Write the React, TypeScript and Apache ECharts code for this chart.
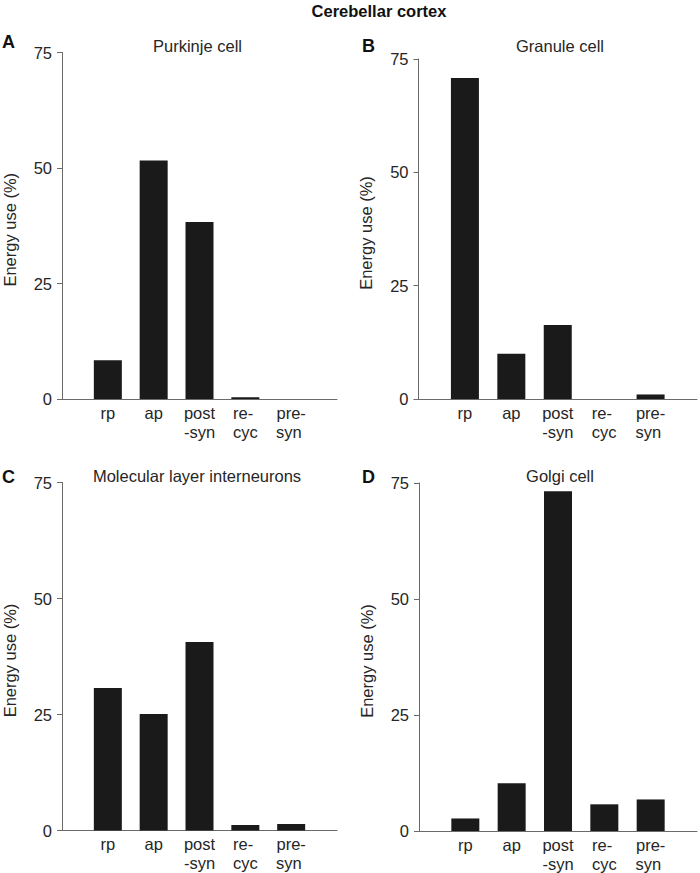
import React, { useEffect, useRef } from "react";
import * as echarts from "echarts";

const categories = ["rp", "ap", "post\n-syn", "re- \ncyc", "pre-\nsyn "];
const purkinje = [8.4, 51.6, 38.3, 0.4, 0];
const granule = [70.8, 10.0, 16.3, 0, 1.0];
const molecular = [30.7, 25.1, 40.6, 1.2, 1.4];
const golgi = [2.7, 10.3, 73.2, 5.75, 6.8];
const panelTitles = ["Purkinje cell", "Granule cell", "Molecular layer interneurons", "Golgi cell"];
const panelLetters = ["A", "B", "C", "D"];
const yTicks = { min: 0, max: 75, interval: 25 };
const mainTitle = "Cerebellar cortex";
const yName = "Energy use (%)";

const FONT = "'Liberation Sans', Arial, Helvetica, sans-serif";
const TEXT = "#262626";
const AXIS = "#6a6a6a";

export default function App() {
  const ref = useRef<HTMLDivElement>(null);
  useEffect(() => {
    document.body.style.margin = "0";
    const chart = echarts.init(ref.current!, null, { renderer: "svg" });
    const grids = [
      { left: 58, top: 52.5, width: 279, height: 346.5 },
      { left: 418.5, top: 59, width: 281, height: 340 },
      { left: 58, top: 482.5, width: 279, height: 348 },
      { left: 419, top: 483, width: 280, height: 348 },
    ];
    const datasets = [purkinje, granule, molecular, golgi];
    const xCats = ["", ...categories, ""];
    const option: any = {
      animation: false,
      backgroundColor: "#ffffff",
      textStyle: { fontFamily: FONT },
      grid: grids.map((g) => ({ ...g, containLabel: false })),
      xAxis: grids.map((_, i) => ({
        type: "category",
        gridIndex: i,
        data: xCats,
        boundaryGap: false,
        axisLine: { show: true, lineStyle: { color: AXIS, width: 1 } },
        axisTick: { show: false },
        splitLine: { show: false },
        axisLabel: {
          interval: 0,
          margin: 4,
          fontSize: 16.5,
          lineHeight: 19,
          color: TEXT,
          fontFamily: FONT,
          align: "center",
        },
      })),
      yAxis: grids.map((_, i) => ({
        type: "value",
        gridIndex: i,
        min: yTicks.min,
        max: yTicks.max,
        interval: yTicks.interval,
        name: yName,
        nameLocation: "middle",
        nameGap: 44,
        nameTextStyle: { fontSize: 16.5, color: TEXT, fontFamily: FONT, padding: [0, 0, 0, -8] },
        axisLine: { show: true, lineStyle: { color: AXIS, width: 1 } },
        axisTick: { show: true, inside: false, length: 5, lineStyle: { color: AXIS } },
        splitLine: { show: false },
        axisLabel: { fontSize: 16.5, color: TEXT, margin: 10, fontFamily: FONT },
      })),
      series: datasets.map((d, i) => ({
        type: "bar",
        xAxisIndex: i,
        yAxisIndex: i,
        data: [null, ...d, null],
        barWidth: 28,
        itemStyle: { color: "#1a1a1a" },
      })),
      graphic: [
        {
          type: "text",
          x: 379,
          y: 11,
          style: {
            text: mainTitle,
            font: `bold 16.5px ${FONT}`,
            fill: "#111",
            textAlign: "center",
            textVerticalAlign: "middle",
          },
        },
        ...[
          [197.5, 46],
          [560, 46],
          [197, 476],
          [560, 476],
        ].map(([x, y], i) => ({
          type: "text",
          x,
          y,
          style: {
            text: panelTitles[i],
            font: `16.5px ${FONT}`,
            fill: TEXT,
            textAlign: "center",
            textVerticalAlign: "middle",
          },
        })),
        ...[
          [2, 42],
          [362, 46],
          [2, 477],
          [362, 477],
        ].map(([x, y], i) => ({
          type: "text",
          x,
          y,
          style: {
            text: panelLetters[i],
            font: `bold 18px ${FONT}`,
            fill: "#111",
            textAlign: "left",
            textVerticalAlign: "middle",
          },
        })),
      ],
    };
    chart.setOption(option);
    return () => chart.dispose();
  }, []);
  return <div ref={ref} style={{ width: 700, height: 873 }} />;
}
